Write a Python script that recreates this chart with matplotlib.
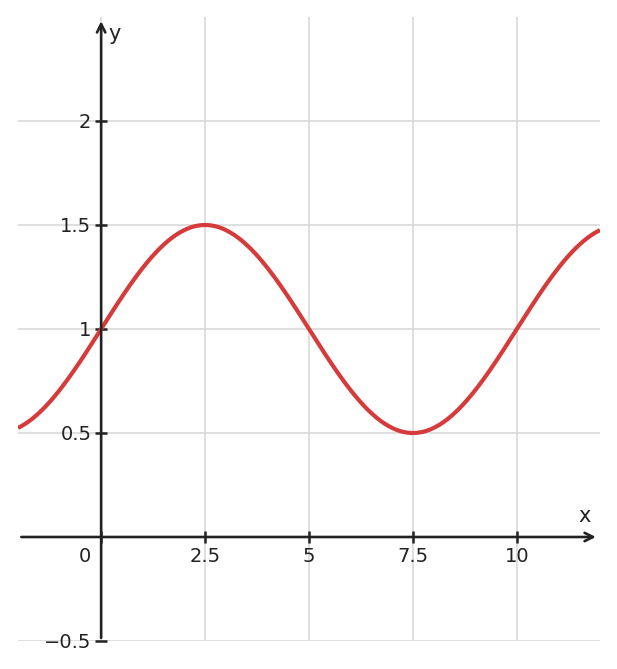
import numpy as np
import matplotlib.pyplot as plt

# curve parameters: y = offset + amplitude * sin(2*pi*x/period)
offset = 1.0
amplitude = 0.5
period = 10.0
x_range = (-2.0, 12.0)
y_range = (-0.5, 2.5)

x_ticks = [0, 2.5, 5, 7.5, 10]
x_tick_labels = ['', '2.5', '5', '7.5', '10']
y_ticks = [-0.5, 0.5, 1, 1.5, 2]
y_tick_labels = ['\u22120.5', '0.5', '1', '1.5', '2']

INK = '#222222'
RED = '#d63b3b'
GRID = '#d6d6d6'

fig = plt.figure(figsize=(6.17, 6.69), dpi=100)
ax = fig.add_axes([18 / 617, 28 / 669, 582 / 617, 624 / 669])

# curve
xs = np.linspace(x_range[0], x_range[1], 600)
ys = offset + amplitude * np.sin(2 * np.pi * xs / period)
ax.plot(xs, ys, color=RED, lw=3, zorder=3, solid_capstyle='butt')

ax.set_xlim(*x_range)
ax.set_ylim(*y_range)

# grid
ax.set_xticks(x_ticks)
ax.set_xticklabels(x_tick_labels)
ax.set_yticks(y_ticks)
ax.set_yticklabels(y_tick_labels)
ax.grid(True, color=GRID, lw=1.1, zorder=0)
ax.set_axisbelow(True)

# axes through the origin
for side in ['top', 'right']:
    ax.spines[side].set_visible(False)
ax.spines['left'].set_position('zero')
ax.spines['bottom'].set_position('zero')
ax.spines['left'].set_visible(False)
ax.spines['bottom'].set_visible(False)
ax.tick_params(direction='inout', length=8, width=1.8, color=INK,
               labelsize=14, labelcolor=INK, pad=3)

ax.annotate('', xy=(11.9, 0), xytext=(-1.92, 0),
            arrowprops=dict(arrowstyle='->,head_length=0.6,head_width=0.3',
                            color=INK, lw=1.9, shrinkA=0, shrinkB=0), zorder=4)
ax.annotate('', xy=(0, 2.48), xytext=(0, -0.485),
            arrowprops=dict(arrowstyle='->,head_length=0.6,head_width=0.3',
                            color=INK, lw=1.9, shrinkA=0, shrinkB=0), zorder=4)

# origin label and axis names
ax.annotate('0', xy=(0, 0), xytext=(-11.5, -7), textcoords='offset points',
            ha='center', va='top', fontsize=14, color=INK)
ax.annotate('x', xy=(11.9, 0), xytext=(-8, 8), textcoords='offset points',
            ha='center', va='bottom', fontsize=15, color=INK)
ax.annotate('y', xy=(0, 2.48), xytext=(5, -2), textcoords='offset points',
            ha='left', va='top', fontsize=15, color=INK)

plt.savefig('out.png', dpi=100)
